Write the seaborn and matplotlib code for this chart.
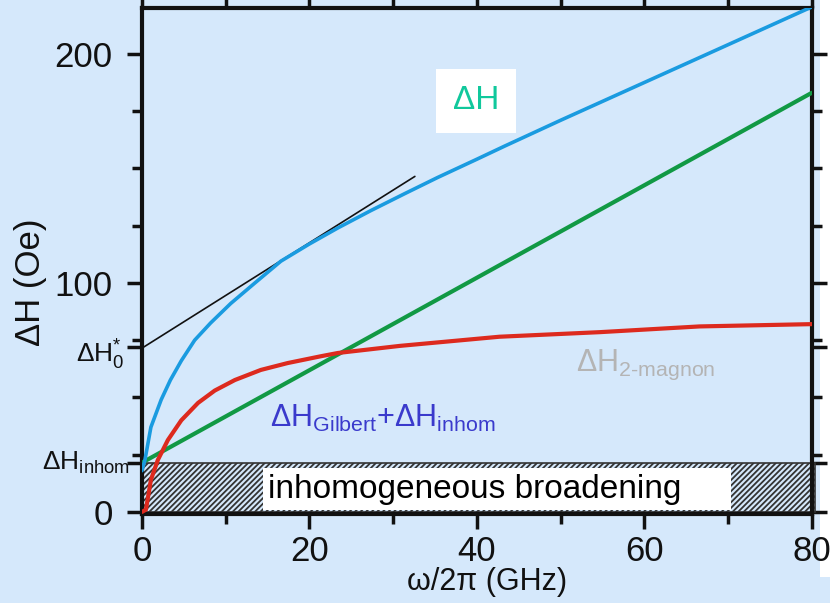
import numpy as np
import pandas as pd
import matplotlib
matplotlib.use("Agg")
import matplotlib.pyplot as plt
import seaborn as sns
from matplotlib.patches import Rectangle
from matplotlib.ticker import MultipleLocator

# curves (frequency in GHz, linewidth in Oe)
dh_freq = [0, 0.36, 1.07, 2.3, 3.4, 4.7, 6.3, 8.2, 10.6, 13.5, 16.6, 20.0, 23.4,
           27.3, 31.4, 35.3, 40.0, 43.3, 50, 60, 70, 80]
dh_total = [18, 22.7, 37, 49, 57.6, 66, 75, 82.5, 91, 100, 109.5, 117, 124,
            131.5, 139, 146, 154, 159.7, 171, 187.5, 204, 220.5]

mag_freq = [0, 0.48, 1.07, 1.9, 3.1, 4.7, 6.7, 8.7, 11.1, 14.2, 17.4, 21.4, 23.4,
            30.8, 42.7, 54.7, 66.6, 80]
mag_width = [0, 1, 14, 22.7, 31.4, 40, 47.6, 53, 57.6, 62, 65, 68, 69.4,
             72.5, 76.5, 78.5, 81, 82]

gil_freq = [0, 80]
gil_width = [21.5, 183]

tan_freq = [0, 32.6]
tan_width = [71.5, 146.5]

dh_inhom = 21.5
dh0_star = 72

sns.set_theme(style="ticks")
bg = "#d5e8fb"
plt.rcParams["font.family"] = ["Liberation Sans", "DejaVu Sans"]
plt.rcParams["mathtext.fontset"] = "custom"
plt.rcParams["mathtext.rm"] = "Liberation Sans"
plt.rcParams["mathtext.it"] = "Liberation Sans"
plt.rcParams["hatch.linewidth"] = 1.3
plt.rcParams["hatch.color"] = "#222222"

fig = plt.figure(figsize=(8.3, 6.03), dpi=100, facecolor=bg)
ax = fig.add_axes([0.171, 0.1476, 0.807, 0.839])
ax.set_facecolor(bg)

# inhomogeneous broadening band
ax.add_patch(Rectangle((0, 0), 80.4, dh_inhom, facecolor="none", edgecolor="#333333",
                       hatch="//////", lw=1.2, clip_on=False, zorder=1))
ax.add_patch(Rectangle((14.45, 0.9), 55.95, 18.4, facecolor="white", edgecolor="none", zorder=2))
ax.text(15.0, 9.6, "inhomogeneous broadening", ha="left", va="center", fontsize=24,
        color="black", zorder=3)

df_dh = pd.DataFrame({"f": dh_freq, "w": dh_total})
df_mag = pd.DataFrame({"f": mag_freq, "w": mag_width})
df_gil = pd.DataFrame({"f": gil_freq, "w": gil_width})
df_tan = pd.DataFrame({"f": tan_freq, "w": tan_width})

sns.lineplot(data=df_tan, x="f", y="w", ax=ax, color="#111111", lw=1.2, zorder=4)
sns.lineplot(data=df_gil, x="f", y="w", ax=ax, color="#119944", lw=3, zorder=4)
sns.lineplot(data=df_mag, x="f", y="w", ax=ax, color="#dd2a1e", lw=3, zorder=5)
sns.lineplot(data=df_dh, x="f", y="w", ax=ax, color="#1a9be0", lw=2.6, zorder=5)

ax.set_xlim(0, 80)
ax.set_ylim(-0.9, 220)

ax.text(39.9, 179.5, "ΔH", color="#10c89c", fontsize=24, ha="center", va="center",
        bbox=dict(facecolor="white", edgecolor="none", boxstyle="square,pad=0.5"))
ax.text(15.3, 41, "ΔH$_{\\mathrm{Gilbert}}$+ΔH$_{\\mathrm{inhom}}$", color="#3a3acc",
        fontsize=22, ha="left", va="center")
ax.text(51.8, 64, "ΔH$_{\\mathrm{2\\text{-}magnon}}$", color="#b4b4b4",
        fontsize=22, ha="left", va="center")

# ticks
ax.xaxis.set_major_locator(MultipleLocator(20))
ax.xaxis.set_minor_locator(MultipleLocator(10))
ax.set_yticks([0, dh_inhom, dh0_star, 100, 200])
ax.set_yticklabels(["0", "", "", "100", "200"])
ax.yaxis.set_minor_locator(MultipleLocator(25))
ax.tick_params(axis="both", which="major", labelsize=25, width=2.5, length=11, color="#111111",
               labelcolor="#111111")
ax.tick_params(axis="y", which="major", pad=10)
ax.tick_params(axis="x", which="major", pad=4)
ax.tick_params(axis="both", which="minor", width=2.5, length=7, color="#111111")
ax.tick_params(top=True, right=True, which="both")

# symbolic tick labels sit closer to the spine than the numbers
ytrans = ax.get_yaxis_transform()
ax.text(-0.018, 18.3, "ΔH$_{\\mathrm{inhom}}$", transform=ytrans, ha="right", va="baseline",
        fontsize=19, color="#111111")
ax.text(-0.026, 65, "ΔH$^{*}_{0}$", transform=ytrans, ha="right", va="baseline",
        fontsize=19, color="#111111")

ax.set_xlabel("ω/2π (GHz)", fontsize=22, color="#111111")
ax.set_ylabel("ΔH (Oe)", fontsize=25, color="#111111")
ax.xaxis.set_label_coords(0.516, -0.105)
ax.yaxis.set_label_coords(-0.142, 0.458)
for s in ax.spines.values():
    s.set_linewidth(3)
    s.set_color("#111111")

# neighbouring panel edge on the right
fig.patches.append(Rectangle((0.988, 0.043), 0.012, 0.957, transform=fig.transFigure,
                             facecolor="white", edgecolor="none", zorder=-1))

fig.savefig("out.png", dpi=100, facecolor=bg)
